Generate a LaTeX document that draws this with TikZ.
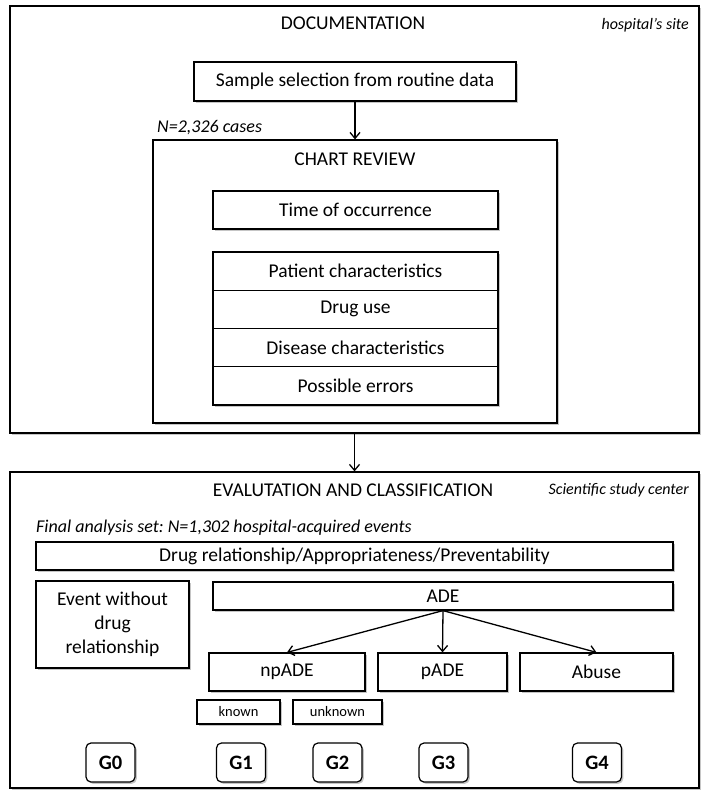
\documentclass[tikz,border=0pt]{standalone}
\usepackage{fontspec}
\setmainfont{Carlito}
\usetikzlibrary{shadows,arrows.meta}

\begin{document}
\begin{tikzpicture}[x=1pt,y=-1pt,
  >={Straight Barb[length=6pt,width=10pt]},
  box/.style={draw, line width=1.2pt, fill=white, inner sep=0pt,
    drop shadow={shadow xshift=1.8pt, shadow yshift=-1.8pt, opacity=0.45},
    font=\fontsize{19.5}{24}\selectfont},
  small/.style={box, font=\fontsize{14.5}{17}\selectfont},
  group/.style={box, rounded corners=5pt, minimum width=49, minimum height=39,
    font=\fontsize{20.5}{24}\selectfont\bfseries},
  title/.style={inner sep=0pt, font=\fontsize{19.5}{24}\selectfont},
  place/.style={inner sep=0pt, font=\fontsize{16}{19}\selectfont\itshape},
  count/.style={inner sep=0pt, font=\fontsize{18}{21}\selectfont\itshape}]
 \useasboundingbox (0,0) rectangle (709,800);
 % hospital part
 \node[box, minimum width=689, minimum height=427] (doc) at (354.5,219.5) {};
 \node[title] (doctitle) at (353,23) {DOCUMENTATION};
 \node[place, anchor=east] (site) at (689,25) {hospital’s site};
 \node[box, minimum width=322, minimum height=39] (sample) at (355,81.5) {Sample selection from routine data};
 \node[count, anchor=west] (cases) at (157,128) {N=2,326 cases};
 \node[box, minimum width=404, minimum height=283] (chart) at (355,281.5) {};
 \node[title] (charttitle) at (355,159) {CHART REVIEW};
 \node[box, minimum width=285, minimum height=38] (time) at (355.5,210) {Time of occurrence};
 \node[box, minimum width=285, minimum height=38.25] (patient) at (355.5,271.1) {Patient characteristics};
 \node[box, minimum width=285, minimum height=38.25] (druguse) at (355.5,309.4) {Drug use};
 \node[box, minimum width=285, minimum height=38.25] (disease) at (355.5,347.6) {Disease characteristics};
 \node[box, minimum width=285, minimum height=38.25] (errors) at (355.5,385.9) {Possible errors};
 \draw [->, line width=1.3pt] (sample) -- (chart);
 % study center part
 \node[box, minimum width=689, minimum height=316] (eval) at (354.5,630) {};
 \draw [->, line width=1.3pt] (doc) -- (eval);
 \node[title] (evaltitle) at (353,490) {EVALUTATION AND CLASSIFICATION};
 \node[place, anchor=east] (center) at (689,490) {Scientific study center};
 \node[count, anchor=west] (final) at (36,528) {Final analysis set:\ N=1,302 hospital-acquired events};
 \node[box, minimum width=637, minimum height=28] (drugrel) at (354.5,556) {Drug relationship/Appropriateness/Preventability};
 \node[box, minimum width=153, minimum height=87, align=center] (event) at (112.5,624.5) {Event without\\drug\\relationship};
 \node[box, minimum width=460, minimum height=28] (ade) at (443,596) {ADE};
 \node[box, minimum width=156, minimum height=38] (npade) at (287,672) {npADE};
 \node[box, minimum width=129, minimum height=38] (pade) at (442.5,672) {pADE};
 \node[box, minimum width=153, minimum height=38] (abuse) at (596.5,672) {Abuse};
 \node[small, minimum width=83, minimum height=24] (known) at (238.5,712) {known};
 \node[small, minimum width=89, minimum height=24] (unknown) at (337.5,712) {unknown};
 \draw [->, line width=1.3pt] (ade.south) -- (npade.north);
 \draw [->, line width=1.3pt] (ade.south) -- (pade.north);
 \draw [->, line width=1.3pt] (ade.south) -- (abuse.north);
 \node[group] (g0) at (110.5,762.5) {G0};
 \node[group] (g1) at (241,762.5) {G1};
 \node[group] (g2) at (337.5,762.5) {G2};
 \node[group] (g3) at (443.5,762.5) {G3};
 \node[group] (g4) at (597,762.5) {G4};
\end{tikzpicture}
\end{document}
